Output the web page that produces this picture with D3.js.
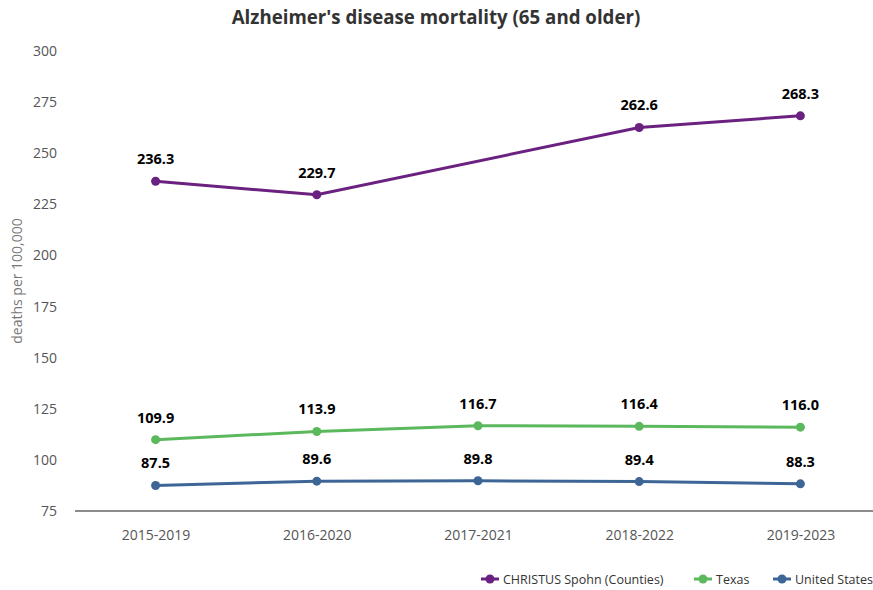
<!DOCTYPE html>
<html><head><meta charset="utf-8">
<script src="https://cdn.jsdelivr.net/npm/d3@7"></script>
<style>body{margin:0;background:#fff;font-family:"Open Sans",sans-serif;}</style>
</head><body><svg id="c" width="873" height="590"></svg>
<script>
const categories = ["2015-2019","2016-2020","2017-2021","2018-2022","2019-2023"];
const christus = [236.3, 229.7, null, 262.6, 268.3];
const texas = [109.9, 113.9, 116.7, 116.4, 116.0];
const us = [87.5, 89.6, 89.8, 89.4, 88.3];
const yTicks = [75,100,125,150,175,200,225,250,275,300];
const seriesNames = ["CHRISTUS Spohn (Counties)","Texas","United States"];
const seriesColors = ["#6b2180","#5cb85c","#3d6697"];

const series = [christus, texas, us].map((v,i)=>({name:seriesNames[i], color:seriesColors[i], values:v}));
const svg = d3.select("#c");
const pLeft=75, pRight=881, pTop=51, pBottom=511;
const x = d3.scalePoint().domain(categories).range([pLeft,pRight]).padding(0.5);
const y = d3.scaleLinear().domain([75,300]).range([pBottom,pTop]);

svg.append("text").attr("x",436).attr("y",24).attr("text-anchor","middle")
  .attr("font-size",18.7).attr("font-weight","bold").attr("fill","#333")
  .text("Alzheimer's disease mortality (65 and older)");

const ya = svg.append("g").attr("transform",`translate(${pLeft},0)`)
  .call(d3.axisLeft(y).tickValues(yTicks).tickSize(0).tickPadding(18));
ya.select(".domain").remove();
ya.selectAll("text").attr("font-size",14).attr("fill","#555").attr("font-family","Open Sans");

const xa = svg.append("g").attr("transform",`translate(0,${pBottom})`)
  .call(d3.axisBottom(x).tickSize(0).tickPadding(19));
xa.select(".domain").attr("stroke","#666").attr("stroke-width",1.5).attr("d",`M${pLeft},0H873`);
xa.selectAll("text").attr("font-size",14).attr("fill","#555").attr("font-family","Open Sans");

svg.append("text").attr("transform","translate(22,281) rotate(-90)").attr("text-anchor","middle")
  .attr("font-size",14).attr("fill","#777").text("deaths per 100,000");

const line = d3.line().x(d=>x(d.c)).y(d=>y(d.v));
series.forEach(s=>{
  const pts = categories.map((c,i)=>({c, v:s.values[i]})).filter(d=>d.v!=null);
  const g = svg.append("g");
  g.append("path").attr("d",line(pts)).attr("fill","none").attr("stroke",s.color).attr("stroke-width",3);
  g.selectAll("circle").data(pts).join("circle").attr("cx",d=>x(d.c)).attr("cy",d=>y(d.v)).attr("r",4.5).attr("fill",s.color);
  g.selectAll("text").data(pts).join("text").attr("x",d=>x(d.c)).attr("y",d=>y(d.v)-17)
    .attr("text-anchor","middle").attr("font-size",14.5).attr("font-weight","bold").attr("fill","#000")
    .text(d=>d.v.toFixed(1));
});

// legend
const legendX = [481, 694, 773];
series.forEach((s,i)=>{
  const g = svg.append("g").attr("transform",`translate(${legendX[i]},579)`);
  g.append("line").attr("x1",0).attr("x2",18).attr("stroke",s.color).attr("stroke-width",3);
  g.append("circle").attr("cx",9).attr("r",4.5).attr("fill",s.color);
  g.append("text").attr("x",22).attr("y",5).attr("font-size",12.5).attr("fill","#333").text(s.name);
});
</script></body></html>
